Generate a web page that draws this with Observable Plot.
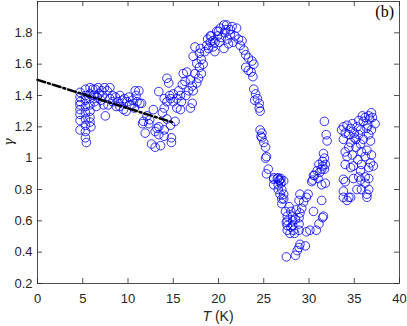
<!DOCTYPE html>
<html><head><meta charset="utf-8">
<script src="https://cdn.jsdelivr.net/npm/d3@7"></script>
<script src="https://cdn.jsdelivr.net/npm/@observablehq/plot@0.6"></script>
<style>body{margin:0;background:#fff} svg{display:block}</style>
</head><body><div id="chart"></div>
<script>
// [T (K), gamma]
const lowT = [[4.7,1.42],[4.7,1.39],[4.7,1.36],[4.7,1.34],[4.7,1.31],[4.7,1.28],[4.7,1.24],[4.7,1.18],
  [5.3,1.44],[5.3,1.40],[5.3,1.37],[5.3,1.33],[5.3,1.29],[5.3,1.25],[5.3,1.21],[5.3,1.17],[5.3,1.13],[5.4,1.10],
  [5.8,1.45],[5.8,1.41],[5.8,1.38],[5.8,1.34],[5.8,1.30],[5.8,1.26],[5.8,1.23],[5.9,1.20],[6.1,1.44]];
const plateau = [[6.4,1.44],[6.7,1.45],[7.1,1.43],[7.4,1.45],[8.0,1.45],[6.6,1.39],[7.2,1.40],[7.8,1.34],[7.5,1.27],
  [8.3,1.36],[8.9,1.36],[9.1,1.33],[9.6,1.38],[10.2,1.34],[10.8,1.43],[10.5,1.37],[6.8,1.41],[7.0,1.37],[6.3,1.36],
  [6.5,1.33],[7.7,1.43],[8.3,1.40],[8.6,1.39],[9.1,1.40],[9.4,1.37],[10.1,1.39],[10.4,1.34],[9.5,1.31],[9.8,1.30],
  [8.7,1.33],[11.2,1.43],[11.3,1.35],[11.0,1.36],[11.5,1.35],[10.7,1.32],[8.0,1.38],[7.3,1.34],[6.2,1.40],[9.9,1.36],[10.9,1.40]];
const dip = [[11.7,1.235],[12.3,1.22],[11.9,1.16],[12.4,1.245],[11.6,1.22],[12.8,1.31],[13.2,1.19],[13.4,1.15],
  [14.0,1.18],[14.7,1.21],[15.2,1.235],[14.8,1.13],[14.8,1.10],[12.6,1.09],[13.0,1.07],[13.6,1.08],[14.0,1.14],
  [13.0,1.17],[13.4,1.20],[12.1,1.27],[14.3,1.25],[13.8,1.29]];
const rise = [[13.4,1.425],[14.3,1.51],[14.5,1.48],[14.0,1.38],[14.7,1.38],[14.3,1.36],[15.0,1.36],[14.0,1.32],
  [15.4,1.32],[15.4,1.38],[15.8,1.40],[16.0,1.47],[16.1,1.54],[16.5,1.55],[16.3,1.49],[16.9,1.50],[17.1,1.46],
  [16.7,1.43],[17.2,1.43],[17.1,1.35],[16.9,1.32],[15.8,1.31],[15.0,1.41],[15.6,1.43],[14.6,1.40],[16.4,1.40],
  [15.9,1.36],[17.6,1.48],[17.4,1.54],[17.6,1.605],[17.2,1.65],[17.9,1.58],[18.1,1.54],[17.8,1.51],[18.1,1.63],
  [18.5,1.68],[17.9,1.67],[17.4,1.71],[18.3,1.60],[18.0,1.70]];
const peak = [[18.7,1.72],[19.1,1.74],[18.9,1.70],[19.4,1.75],[19.2,1.78],[19.8,1.81],[20.2,1.83],[20.6,1.85],
  [20.9,1.85],[21.3,1.82],[20.7,1.80],[21.3,1.79],[22.0,1.83],[21.8,1.78],[22.2,1.76],[22.4,1.72],[22.8,1.69],
  [23.0,1.66],[19.6,1.68],[20.6,1.70],[20.1,1.74],[19.6,1.74],[19.1,1.78],[19.9,1.78],[20.3,1.77],[21.6,1.74],
  [20.0,1.81],[21.0,1.76],[19.4,1.71],[20.8,1.82],[21.5,1.84],[18.8,1.76],[21.1,1.73],[22.6,1.75]];
const fall = [[23.3,1.64],[23.7,1.62],[23.9,1.60],[23.0,1.58],[23.6,1.55],[23.8,1.52],[23.3,1.56],[23.9,1.44],
  [24.1,1.41],[24.3,1.38],[24.5,1.35],[24.5,1.32],[24.0,1.37],[24.6,1.30],[24.6,1.18],[24.8,1.16],[24.8,1.13],
  [25.0,1.10],[25.2,1.07],[25.3,1.01],[24.7,1.14],[25.2,1.00],[25.5,0.93],[25.3,0.90]];
const knee = [[26.1,0.875],[26.6,0.875],[26.9,0.87],[26.1,0.865],[26.5,0.87],[26.8,0.86],[27.2,0.855],[26.1,0.83],
  [26.6,0.83],[26.6,0.80],[26.8,0.77],[27.0,0.74],[27.0,0.71],[27.2,0.74],[27.2,0.77],[27.0,0.80],[26.9,0.84],[26.7,0.86]];
const valley = [[27.4,0.66],[27.6,0.63],[27.6,0.60],[27.6,0.57],[27.6,0.54],[28.0,0.66],[28.2,0.63],[28.2,0.60],
  [28.2,0.57],[28.3,0.54],[28.5,0.61],[28.9,0.62],[28.9,0.58],[28.9,0.54],[29.0,0.65],[29.2,0.68],[28.9,0.73],
  [29.4,0.72],[29.0,0.77],[29.7,0.75],[29.9,0.77],[30.5,0.66],[31.4,0.73],[31.6,0.63],[31.1,0.58],[30.8,0.54],
  [30.1,0.54],[29.7,0.53],[29.0,0.45],[28.9,0.43],[29.6,0.44],[28.7,0.41],[28.5,0.38],[27.5,0.37],[27.8,0.69],
  [27.5,0.59],[28.0,0.56],[28.6,0.67],[27.9,0.52],[28.4,0.52]];
const recover = [[30.5,0.89],[30.4,0.86],[31.0,0.87],[31.4,0.83],[31.1,0.96],[31.4,0.93],[31.5,0.95],[31.2,0.91],
  [31.7,1.235],[31.9,1.15],[32.0,1.11],[31.6,1.03],[31.7,1.00],[31.8,0.96],[31.5,0.98],[30.9,0.92],[30.6,0.89],
  [30.3,0.85],[31.7,0.93],[31.8,0.84],[31.5,0.62]];
const highT = [[33.8,1.20],[34.0,1.16],[33.8,1.12],[34.2,1.21],[34.6,1.19],[34.4,1.15],[34.6,1.10],[34.0,1.04],
  [34.2,1.01],[34.0,0.96],[34.6,0.94],[33.8,0.865],[34.0,0.85],[33.8,0.75],[34.2,0.73],[34.6,0.75],[33.8,0.79],
  [35.3,1.20],[35.0,1.16],[35.5,1.15],[35.2,1.12],[35.7,1.18],[36.0,1.235],[36.2,1.26],[36.6,1.27],[36.9,1.29],
  [36.7,1.25],[37.3,1.22],[36.4,1.19],[36.6,1.15],[36.0,1.12],[36.8,1.11],[35.7,1.09],[35.2,1.07],[35.8,1.04],
  [36.2,1.01],[35.4,0.99],[35.8,0.96],[36.6,0.94],[36.8,0.97],[34.9,0.95],[35.7,0.92],[35.5,0.88],[36.2,0.88],
  [36.6,0.87],[35.7,0.86],[36.2,0.84],[36.6,0.80],[36.4,0.77],[35.8,0.80],[35.3,0.80],[36.4,0.75],[34.4,0.75],
  [34.9,0.87],[34.8,1.22],[35.0,1.13],[35.5,1.24],[36.9,1.18],[37.0,1.26],[36.5,1.21],[35.9,1.27],[34.4,1.07],
  [34.8,1.02],[36.4,1.05],[36.9,1.02],[37.1,0.95],[33.6,1.18]];

// dash-dot fit line
const fitT = [0, 14.85];
const fitG = [1.5, 1.23];

const xTicks = [0, 5, 10, 15, 20, 25, 30, 35, 40];
const yTicks = [0.2, 0.4, 0.6, 0.8, 1, 1.2, 1.4, 1.6, 1.8];

const points = [...lowT, ...plateau, ...dip, ...rise, ...peak, ...fall, ...knee, ...valley, ...recover, ...highT]
  .map(([T, g]) => ({T, g}));
const fit = fitT.map((t, i) => ({t, g: fitG[i]}));

const W = 407, H = 326, mL = 37, mR = 8, mT = 1, mB = 43;
const iw = W - mL - mR, ih = H - mT - mB;
const axisColor = "#262626";
const sans = "'Liberation Sans', Arial, Helvetica, sans-serif";

const fig = Plot.plot({
  width: W, height: H,
  marginLeft: mL, marginRight: mR, marginTop: mT, marginBottom: mB,
  style: {fontFamily: sans, fontSize: "13px", color: axisColor, background: "#fff"},
  x: {domain: [0, 40]},
  y: {domain: [0.2, 2.0]},
  marks: [
    Plot.dot(points, {x: "T", y: "g", r: 4.3, stroke: "#0000ff", strokeWidth: 0.8, fill: "none"}),
    Plot.line(fit, {x: "t", y: "g", stroke: "#000", strokeWidth: 2.5, strokeDasharray: "8,3,2,3"}),
    Plot.frame({stroke: axisColor, strokeWidth: 0.8}),
    Plot.tickX(xTicks, {x: d => d, insetTop: ih - 5, stroke: axisColor, strokeWidth: 0.8}),
    Plot.tickX(xTicks, {x: d => d, insetBottom: ih - 5, stroke: axisColor, strokeWidth: 0.8}),
    Plot.tickY(yTicks, {y: d => d, insetRight: iw - 5, stroke: axisColor, strokeWidth: 0.8}),
    Plot.tickY(yTicks, {y: d => d, insetLeft: iw - 5, stroke: axisColor, strokeWidth: 0.8}),
    Plot.axisX(xTicks, {tickSize: 0, tickPadding: 10, label: null, tickFormat: d => String(d)}),
    Plot.axisY(yTicks, {tickSize: 0, tickPadding: 5, label: null, tickFormat: d => String(d)})
  ]
});
document.getElementById("chart").appendChild(fig);

const svg = d3.select(fig);
const xs = fig.scale("x");
const xl = svg.append("text")
  .attr("x", xs.apply(20)).attr("y", 321)
  .attr("text-anchor", "middle")
  .attr("fill", axisColor)
  .style("font-family", sans).style("font-size", "14px");
xl.append("tspan").style("font-style", "italic").text("T");
xl.append("tspan").text(" (K)");

svg.append("text")
  .attr("transform", `translate(13,${mT + ih / 2}) rotate(-90)`)
  .attr("text-anchor", "middle")
  .attr("fill", axisColor)
  .style("font-family", "'DejaVu Serif', serif").style("font-style", "italic").style("font-size", "13px")
  .text("γ");

svg.append("text")
  .attr("x", 394).attr("y", 17)
  .attr("text-anchor", "end")
  .attr("fill", "#000")
  .style("font-family", "'Liberation Serif', 'Times New Roman', serif").style("font-size", "16px")
  .text("(b)");
</script>
</body></html>
